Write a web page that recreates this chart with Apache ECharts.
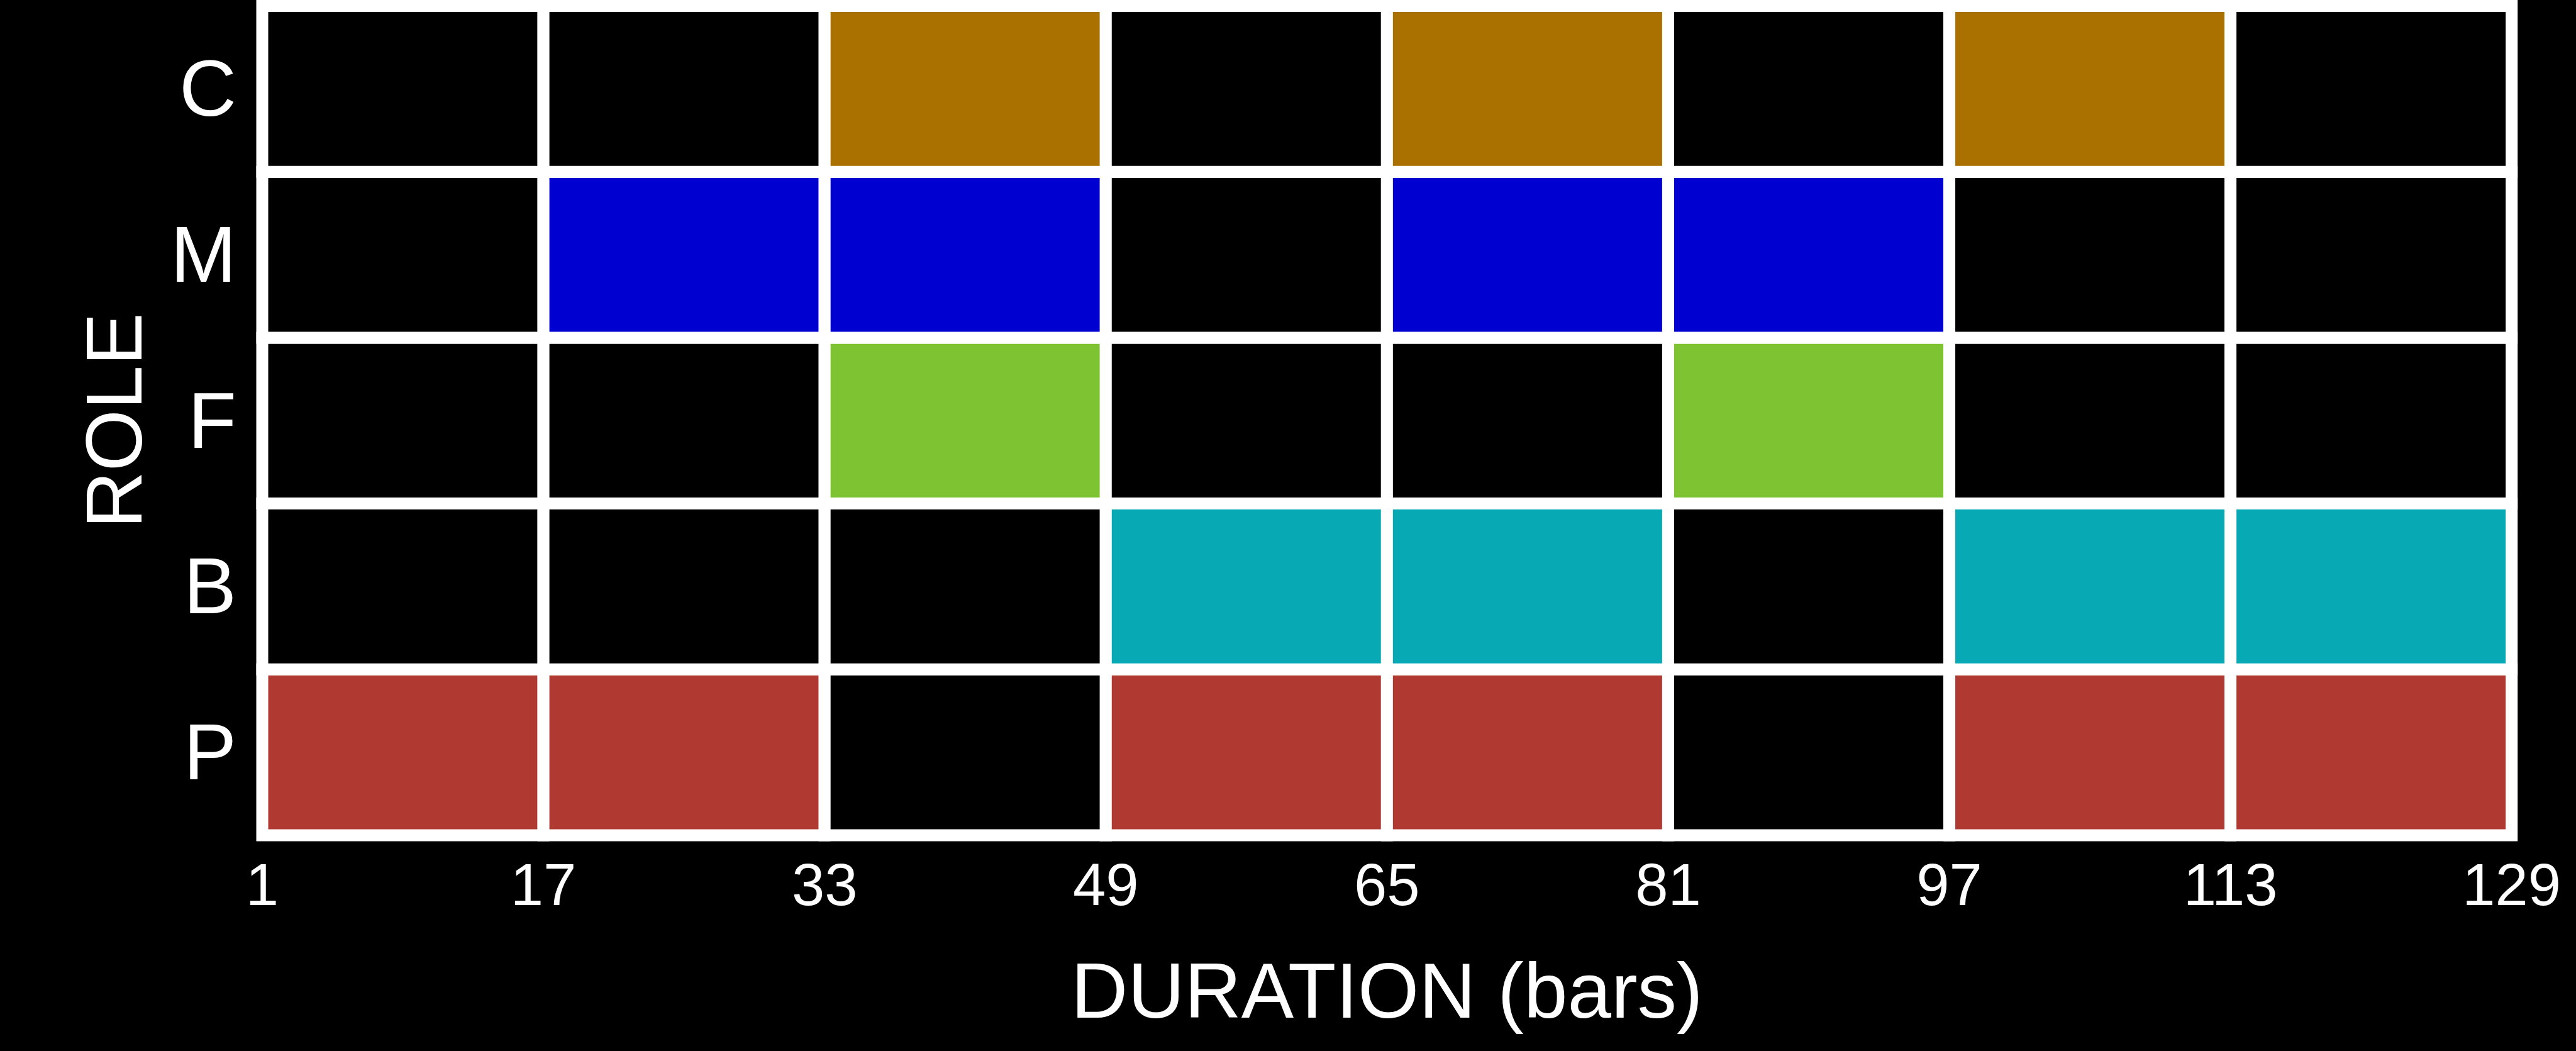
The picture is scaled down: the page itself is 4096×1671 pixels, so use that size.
<!DOCTYPE html>
<html>
<head>
<meta charset="utf-8">
<style>
  html, body { margin: 0; padding: 0; background: #000; }
  #chart { width: 4096px; height: 1671px; }
</style>
<script src="https://cdn.jsdelivr.net/npm/echarts@6/dist/echarts.min.js"></script>
</head>
<body>
<div id="chart"></div>
<script>
// Roles, bottom to top
const roles = ['P', 'B', 'F', 'M', 'C'];
// Segment boundaries in bars (also the x tick labels)
const barTicks = [1, 17, 33, 49, 65, 81, 97, 113, 129];
// Active (1) / inactive (0) per 16-bar segment
const roleP = [1, 1, 0, 1, 1, 0, 1, 1];
const roleB = [0, 0, 0, 1, 1, 0, 1, 1];
const roleF = [0, 0, 1, 0, 0, 1, 0, 0];
const roleM = [0, 1, 1, 0, 1, 1, 0, 0];
const roleC = [0, 0, 1, 0, 1, 0, 1, 0];
const roleColors = ['#B03932', '#07AAB4', '#7DC332', '#0000D0', '#AA7000'];

const activity = [roleP, roleB, roleF, roleM, roleC];
const cells = [];
activity.forEach((arr, r) => {
  arr.forEach((on, s) => {
    cells.push([barTicks[s], barTicks[s + 1], r, on]);
  });
});

const chart = echarts.init(document.getElementById('chart'));
const FONT = '"Liberation Sans", Arial, Helvetica, sans-serif';
chart.setOption({
  backgroundColor: '#000',
  animation: false,
  grid: { left: 417, right: 102.3, top: 9.5, bottom: 343 },
  xAxis: {
    type: 'value',
    min: 1,
    max: 129,
    name: 'DURATION (bars)',
    nameLocation: 'middle',
    nameGap: 193,
    nameTextStyle: { color: '#fff', fontSize: 125, fontFamily: FONT, lineHeight: 126 },
    axisLine: { show: false },
    axisTick: { show: false },
    splitLine: { show: false },
    axisLabel: {
      customValues: barTicks,
      color: '#fff', fontSize: 94, fontFamily: FONT, lineHeight: 94, margin: 38
    }
  },
  yAxis: {
    type: 'category',
    data: roles,
    name: 'ROLE',
    nameLocation: 'middle',
    nameGap: 164,
    nameTextStyle: { color: '#fff', fontSize: 126, fontFamily: FONT, lineHeight: 126 },
    axisLine: { show: false },
    axisTick: { show: false },
    splitLine: { show: false },
    axisLabel: {
      color: '#fff', fontSize: 126, fontFamily: FONT, margin: 41,
      verticalAlign: 'top', lineHeight: 16
    }
  },
  series: [{
    type: 'custom',
    coordinateSystem: 'cartesian2d',
    encode: { x: [0, 1], y: 2 },
    data: cells,
    renderItem: function (params, api) {
      const x0 = api.coord([api.value(0), api.value(2)]);
      const x1 = api.coord([api.value(1), api.value(2)]);
      const h = api.size([0, 1])[1];
      const on = api.value(3);
      const r = api.value(2);
      return {
        type: 'rect',
        shape: { x: x0[0], y: x0[1] - h / 2, width: x1[0] - x0[0], height: h },
        style: {
          fill: on ? roleColors[r] : '#000',
          stroke: '#fff',
          lineWidth: 19
        }
      };
    }
  }]
});
</script>
</body>
</html>
